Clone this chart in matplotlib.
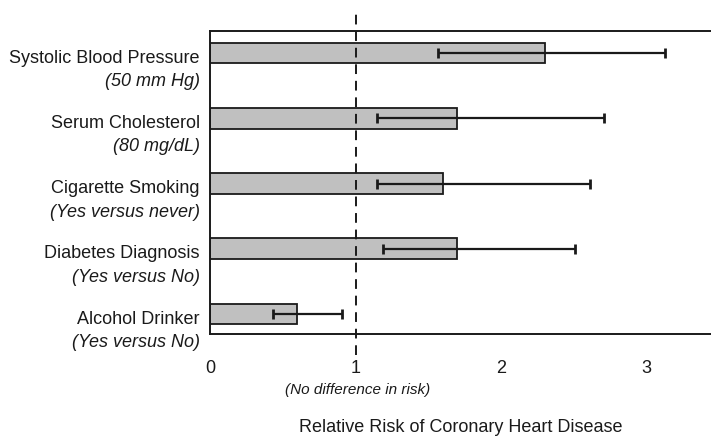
"""
Relative risk of coronary heart disease by risk factor:
grey bars with 95% CI whiskers, dashed reference line at RR = 1.
"""
import matplotlib
matplotlib.use("Agg")
import matplotlib.pyplot as plt

plt.rcParams["font.family"] = ["Liberation Sans", "DejaVu Sans"]

# ---- data ----
factors = ["Systolic Blood Pressure", "Serum Cholesterol", "Cigarette Smoking",
           "Diabetes Diagnosis", "Alcohol Drinker"]
units = ["(50 mm Hg)", "(80 mg/dL)", "(Yes versus never)",
         "(Yes versus No)", "(Yes versus No)"]
rel_risk = [2.30, 1.70, 1.60, 1.70, 0.60]
ci_low = [1.57, 1.15, 1.15, 1.19, 0.43]
ci_high = [3.13, 2.71, 2.61, 2.51, 0.91]
tick_vals = [0, 1, 2, 3]

INK = "#1a1a1a"
BAR = "#c0c0c0"

fig = plt.figure(figsize=(7.11, 4.37), dpi=100)
ax = fig.add_axes([210 / 711, 1 - 334 / 437, 501 / 711, 303 / 437])

ypos = list(range(len(factors)))
ax.barh(ypos, rel_risk, height=0.32, color=BAR, edgecolor=INK, linewidth=1.3,
        zorder=2)

err_lo = [v - lo for v, lo in zip(rel_risk, ci_low)]
err_hi = [hi - v for v, hi in zip(rel_risk, ci_high)]
ax.errorbar(rel_risk, ypos, xerr=[err_lo, err_hi], fmt="none", ecolor=INK,
            elinewidth=1.6, capsize=3.5, capthick=2, zorder=3)

# reference line at RR = 1, runs past the frame at both ends
ax.axvline(1, ymin=-0.07, ymax=1.06, color=INK, lw=1.4, ls=(0, (5, 3.5)),
           clip_on=False, zorder=4)

ax.set_xlim(0, 501 / 145.5)
ax.set_ylim(4.306, -0.337)

for s in ["left", "top", "bottom"]:
    ax.spines[s].set_linewidth(1.4)
    ax.spines[s].set_color(INK)
ax.spines["right"].set_visible(False)

ax.set_yticks([])
ax.set_xticks(tick_vals)
ax.set_xticklabels([str(t) for t in tick_vals], fontsize=13, color=INK)
ax.tick_params(axis="x", which="major", length=0, pad=19)
ax.set_xticks([2], minor=True)
ax.tick_params(axis="x", which="minor", direction="in", length=9, width=1.5,
               color=INK)

# two-line category labels left of the frame
for y, name, unit in zip(ypos, factors, units):
    ax.text(-0.07, y + 0.08, name, ha="right", va="center", fontsize=13,
            color=INK, clip_on=False)
    ax.text(-0.07, y + 0.44, unit, ha="right", va="center", fontsize=13,
            style="italic", color=INK, clip_on=False)

fig.text(358 / 711, 1 - 390 / 437, "(No difference in risk)", ha="center",
         va="center", fontsize=11, style="italic", color=INK)
fig.text(461 / 711, 1 - 428 / 437, "Relative Risk of Coronary Heart Disease",
         ha="center", va="center", fontsize=13, color=INK)

fig.savefig("out.png", dpi=100)
